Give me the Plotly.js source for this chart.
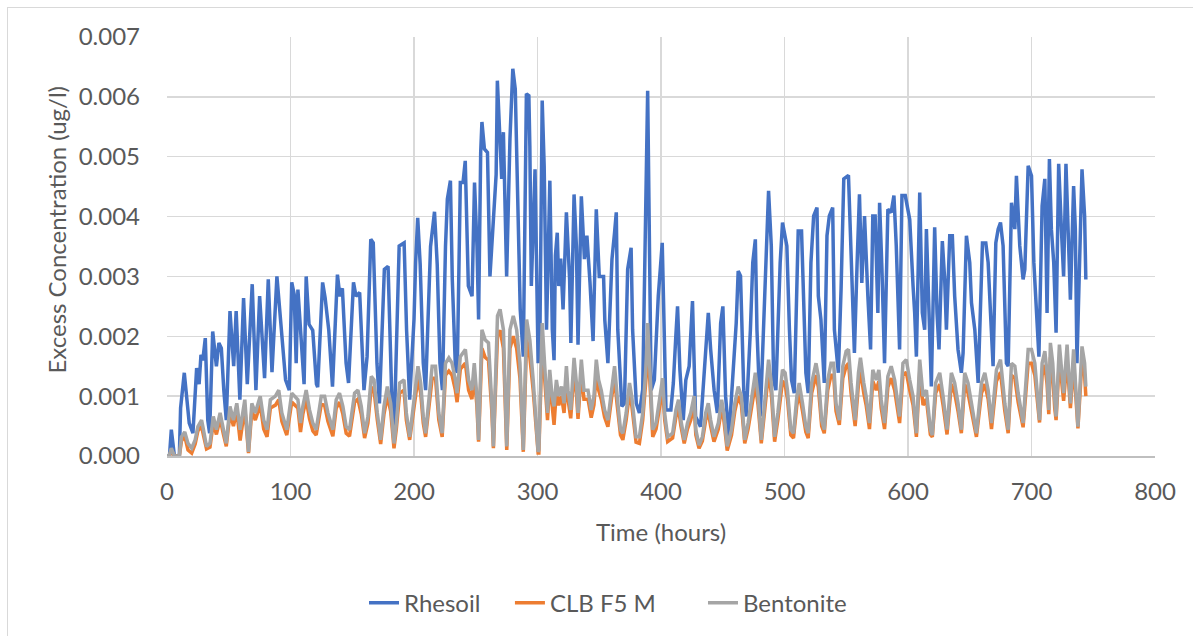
<!DOCTYPE html>
<html>
<head>
<meta charset="utf-8">
<script src="https://cdn.plot.ly/plotly-3.0.1.min.js"></script>
<style>
  html, body { margin: 0; padding: 0; background: #fff; overflow: hidden; }
  #frame { position: absolute; left: 7px; top: 7px; width: 1200px; height: 640px; border-left: 1px solid #d9d9d9; border-top: 1px solid #d9d9d9; }
  #chart { position: absolute; left: 0; top: 0; width: 1193px; height: 636px; }
</style>
</head>
<body>
<div id="frame"></div>
<div id="chart"></div>
<script>
// Values are in units of 0.001 ug/l (tick labels show the real values)
const seriesNames = ["Rhesoil", "CLB F5 M", "Bentonite"];
const seriesColors = ["#4472C4", "#ED7D31", "#A5A5A5"];

const tRhesoil = [
  0,2,3.5,5,6,10,11,14,16,18,21,24,26,27.5,29,31,33,34.5,37,39,40,42,44,46,48,51,54,56,59,62,65,69,72,75,79,82,85,89,92,96,99,
  101,103,104.6,106,107.5,111,112.7,115,118,121,122,126,128,131,134,138,140,142,145,147,151,153,156,159.5,162,165,167,170,172,176,179,182,184,188,192,194,196.5,
  200,201.3,203,205,207.5,209.4,213.4,216.6,218.8,221,223,225.5,227,229.5,231,233.5,235,237.5,239.7,241.5,244,247,249,251,252.3,254,255,257,259.5,261.5,266.5,267.5,269,271,272.4,275,277.7,280,282,283,284.5,286,288.5,291,293,293.8,295,298,300.5,
  302,303.8,305.4,307.3,308.6,310,312,313.4,314.5,316,317.2,318.8,320.7,323.4,326,327,329.6,331.5,332.8,335.5,338,340,342.5,345,347.6,350,353.5,354.5,357,360.3,362.4,363.8,365,368.3,370.4,373,375.8,377,380,382.5,385.2,386.6,389.2,390.5,392,394.6,397.8,401,
  402.7,404,408,410,412,413.4,415.3,418,420.1,422.8,425.5,426.8,428,432,436.2,438.3,440.2,443,445.6,448.3,450.1,452.3,455,458.2,460.9,462.5,464.4,467,469,472.4,474.3,476.4,477.7,480.4,483.9,485.8,487.1,489.3,491.2,493,496.5,498.4,
  501.9,504,505.7,507.9,510,511.1,513.8,515.5,517.3,519.2,521.4,523.6,526.3,527.4,529.5,532.2,534.4,536.3,539,540.4,543.6,545.8,548,551.8,554,556.6,558.8,560.7,562.6,564.8,567.5,569.7,571.5,573.4,575.6,577,578.9,581,583.7,586.4,588.6,590.5,593.2,595.1,597.8,
  601.4,604.1,605.4,606.8,609.5,611.6,613.5,614.9,617,618.9,621.6,623.5,625.1,627.8,629.7,631.1,633.8,635.9,637.8,640.5,643.2,644.6,647.3,650,651.4,654.1,656.8,658.6,660.3,663,664.9,666.8,668.9,671.1,673,674.9,677,679.7,681.1,683.8,686.5,687.8,690.5,693.2,694.6,697.3,700,701.9,
  706,708.6,710.8,712.6,714.5,716.1,718,719.9,722,724.2,726,727.9,730.1,731.5,734.1,735.5,736.8,738.2,740.9,743,744
];
const rhesoil = [
  0,0,0.44,0.1,0,0,0.8,1.39,0.9,0.55,0.38,1.47,1.2,1.69,1.6,1.97,0.6,0.38,2.08,1.7,1.5,1.89,1.8,1.1,0.6,2.42,1.5,2.42,0.94,2.64,1.2,2.87,1.1,2.67,1.3,2.95,1.4,3.0,2.2,1.27,1.1,
  2.9,2.7,1.55,2.78,2.3,1.2,3.0,2.2,2.1,1.2,1.15,2.9,2.65,2.1,1.16,3.03,2.67,2.8,1.55,1.22,2.9,2.67,2.73,1.1,1.66,3.62,3.56,1.55,0.88,3.12,3.17,1.0,0.49,3.51,3.56,2.1,0.94,
  2.28,3.23,3.98,3.2,1.55,1.1,3.5,4.08,3.2,1.55,1.1,3.5,4.29,4.6,2.95,1.5,1.39,4.57,4.57,4.93,2.84,2.67,4.57,3.5,2.28,5.07,5.58,5.13,5.07,3.0,4.7,6.27,5.47,4.63,5.41,3.0,5.3,6.47,6.13,5.18,3.68,2.45,1.66,6.05,6.02,5.18,2.84,4.79,1.55,
  2.1,5.94,4.85,2.11,3.68,4.6,2.11,1.6,3.35,3.73,2.84,3.3,2.45,4.07,2.95,1.89,4.37,3.5,1.86,4.34,3.29,3.68,2.9,1.92,4.12,3.0,3.0,2.27,1.55,3.29,3.73,4.07,2.11,0.83,0.88,3.12,3.48,2.11,0.88,0.72,1.11,2.67,6.1,3.79,1.1,1.27,2.67,3.56,
  2.11,0.77,0.77,1.22,2.0,2.5,1.44,0.6,1.27,1.5,2.59,1.55,0.66,0.49,1.72,2.39,1.78,1.1,0.72,2.22,2.5,1.0,0.32,1.27,2.22,3.09,3.01,1.1,0.66,2.11,3.23,3.62,2.11,0.66,2.67,3.68,4.43,3.51,1.27,1.1,3.23,3.9,
  3.51,2.11,1.27,1.05,3.23,3.76,3.76,2.67,1.39,1.05,3.23,4.01,4.15,2.67,2.28,1.22,3.68,4.01,4.15,2.11,1.39,2.78,4.63,4.69,3.23,1.72,3.23,4.37,2.89,4.01,2.67,1.78,4.01,4.01,2.39,4.23,3.12,1.55,4.12,4.07,4.35,3.51,1.78,4.35,4.35,
  3.95,2.84,2.39,1.66,4.4,2.39,2.11,3.79,2.11,1.16,3.82,2.39,1.78,3.59,2.95,2.11,3.68,3.68,2.67,1.78,1.39,1.72,3.68,3.23,2.56,2.11,1.22,2.67,3.56,3.56,3.23,2.39,1.5,3.56,3.79,3.9,3.51,1.55,1.5,4.23,3.79,4.68,3.51,2.95,3.12,4.85,4.68,3.23,
  1.66,4.18,4.63,2.39,4.96,3.79,3.23,2.06,4.88,3.79,3.0,4.88,3.23,2.61,4.51,3.79,1.55,2.67,4.79,4.01,2.95
];

const tMix = [
  0,2,3.5,6,10,11.7,14.4,17,20,22.8,25,28,29.5,32,34.8,37.5,40,43,45.7,48,51,53.8,56.5,59.2,63,66,68.7,71.5,75.5,78.3,81,83.7,87.8,90.5,93,97,
  101,103.2,106,108.1,110,112.7,115.4,118.1,120.8,124.9,127.6,130.3,134.3,137,139.7,142.4,145.1,147.8,151.9,154.6,157.3,160,162.7,165.4,167.6,170.3,173,175.7,178.4,181.1,183.8,185.7,188.4,191.9,193.8,196.5,
  201.3,203.2,205.4,207.5,209.4,212.1,214.7,217.4,220.1,222.8,225.5,228.2,230.8,233.5,234.9,237.5,241.6,244.2,246.9,248.8,250.9,252.3,255,257.6,260.3,263,264.3,267.6,269.7,272.4,275.1,277.7,280.4,283.1,285.8,288.5,291.2,293.8,296.5,300.5,
  301.1,303.8,305.9,308.1,309.9,311.8,313.4,315.3,317.2,319.4,321.5,323.4,324.7,326.9,329.6,331.5,332.8,335.5,337.6,340.9,343.5,345.7,347.6,349.5,351.6,354.3,357,360.2,362.4,364.5,367.2,369.1,371.8,374.5,376.3,379.8,382.5,385.2,387.9,389.2,391.4,393.3,396,399.5,
  401.3,403,405.4,409.4,412.1,414.2,416.1,418.8,421.4,424.1,426.8,428.2,430.8,433.5,436.2,438.3,440.2,442.9,446.4,449.1,450.9,453.6,457.1,459.8,462.5,465.1,467.8,470.5,473.7,476.4,478.6,481.2,483.9,487.1,489.3,492,494.6,498.4,
  500.5,502.4,505.1,507.3,510,511.9,514.6,517.3,519.2,522,525.5,527.4,530.1,532.2,535,537.7,539.8,541.7,544.4,547.2,549.9,551.8,553.9,557.2,559.9,561.5,564.2,566.1,568.8,571.5,574.3,576.4,578.3,581,583.7,586.4,589.2,593.2,595.9,598.6,
  601.4,604.1,606.8,609.5,612.2,614.9,618.1,619.7,622.4,625.7,628.4,631.6,635.1,637.8,640.5,643.2,645.9,648.6,651.4,655.4,659.5,662.2,664.9,667.6,671.6,674.9,678.4,681.1,683.8,686.5,689.2,693.2,697.3,700,
  702.7,706.5,708.6,710.8,712.6,714,715.3,717.2,718.8,719.9,722.6,724.7,726,728.8,730.1,731.5,734.1,735.5,737.6,740.9,743,744
];
const bentonite = [
  0,0.02,0.13,0,0,0.32,0.4,0.21,0.13,0.27,0.49,0.6,0.44,0.16,0.21,0.66,0.44,0.72,0.44,0.21,0.83,0.6,0.88,0.44,0.94,0.07,0.88,0.72,1.0,0.6,0.44,0.94,1.0,1.1,0.72,0.44,
  1.05,1.0,0.94,0.55,0.83,1.1,0.77,0.55,0.44,1.0,1.0,0.72,0.44,0.94,1.05,0.83,0.49,0.44,1.05,1.1,0.83,0.38,0.66,1.33,1.27,0.72,0.27,0.83,1.16,0.88,0.21,0.55,1.22,1.27,0.72,0.32,
  1.22,1.5,1.22,0.66,0.38,1.0,1.5,1.5,0.72,0.38,1.55,1.64,1.55,1.27,1.05,1.66,1.78,1.27,1.1,1.55,1.0,0.27,2.11,1.94,1.89,0.88,0.16,2.34,2.45,2.11,0.16,2.11,2.34,2.11,1.55,0.1,2.28,1.94,1.27,0.07,
  0.1,2.22,1.55,0.72,1.44,1.0,0.83,1.27,1.0,1.16,0.88,1.5,1.1,0.77,1.64,1.22,0.72,1.61,1.1,1.1,0.77,1.0,1.61,1.27,1.1,0.77,0.6,1.16,1.5,1.0,0.44,0.38,0.72,1.22,1.0,0.32,0.32,0.72,1.5,2.22,1.1,0.44,0.55,1.0,
  1.3,0.7,0.32,0.38,0.77,0.94,0.6,0.27,0.55,0.72,1.0,0.44,0.18,0.32,0.72,0.88,0.6,0.32,0.55,0.94,0.72,0.16,0.44,0.88,1.16,1.0,0.27,0.55,1.0,1.39,1.0,0.27,0.88,1.61,1.22,0.32,0.72,1.44,
  1.39,1.1,0.44,0.38,1.0,1.22,0.88,0.49,0.38,1.22,1.55,1.33,0.6,0.44,1.27,1.55,1.55,0.88,0.6,1.5,1.75,1.78,1.22,0.6,1.39,1.64,1.22,1.0,0.55,1.44,1.27,1.44,0.94,0.55,1.33,1.5,1.27,0.66,1.55,1.61,
  1.27,1.0,0.38,1.61,1.0,1.1,0.44,0.35,1.22,1.39,1.0,0.44,1.39,1.22,0.88,0.44,1.39,1.22,0.88,0.38,1.22,1.39,1.1,0.55,1.44,1.61,0.88,0.44,1.55,1.5,1.05,0.55,1.78,1.78,
  1.55,0.6,1.55,1.75,1.39,0.77,1.89,1.55,0.94,0.66,1.86,1.27,1.05,1.86,1.27,0.88,1.78,1.27,0.49,1.83,1.55,1.16
];
const clbF5M = [
  0,0,0.1,0,0,0.25,0.33,0.1,0.05,0.2,0.42,0.5,0.35,0.12,0.15,0.56,0.36,0.62,0.36,0.16,0.72,0.5,0.76,0.26,0.8,0.05,0.76,0.6,0.86,0.45,0.32,0.8,0.85,0.94,0.58,0.35,
  0.9,0.85,0.8,0.4,0.7,0.95,0.62,0.42,0.35,0.86,0.85,0.58,0.33,0.8,0.9,0.7,0.38,0.33,0.9,0.95,0.7,0.3,0.55,1.15,1.1,0.6,0.2,0.7,1.0,0.75,0.13,0.45,1.05,1.1,0.6,0.27,
  1.05,1.3,1.05,0.55,0.32,0.85,1.3,1.3,0.6,0.32,1.35,1.42,1.35,1.1,0.9,1.45,1.55,1.1,0.95,1.35,0.85,0.24,1.8,1.65,1.6,0.75,0.13,2.0,2.1,1.8,0.1,1.8,2.0,1.8,1.3,0.07,1.95,1.65,1.1,0.05,
  0.05,1.9,1.3,0.6,1.25,0.85,0.52,1.1,0.85,1.0,0.72,1.3,0.95,0.63,1.42,1.05,0.62,1.4,0.95,0.95,0.64,0.85,1.4,1.1,0.95,0.65,0.49,1.0,1.3,0.85,0.35,0.27,0.6,1.05,0.85,0.23,0.21,0.6,1.3,1.95,0.95,0.32,0.45,0.85,
  1.12,0.6,0.24,0.3,0.65,0.8,0.5,0.21,0.45,0.6,0.86,0.35,0.13,0.25,0.6,0.75,0.5,0.24,0.45,0.8,0.6,0.09,0.35,0.75,1.0,0.85,0.21,0.45,0.85,1.2,0.85,0.21,0.75,1.4,1.05,0.24,0.6,1.25,
  1.2,0.95,0.35,0.3,0.85,1.05,0.75,0.4,0.3,1.05,1.35,1.15,0.5,0.38,1.1,1.35,1.35,0.75,0.52,1.3,1.5,1.55,1.05,0.5,1.2,1.42,1.05,0.85,0.45,1.25,1.1,1.25,0.8,0.45,1.15,1.3,1.1,0.55,1.35,1.4,
  1.1,0.85,0.32,1.4,0.85,0.95,0.36,0.32,1.05,1.2,0.85,0.36,1.2,1.05,0.75,0.38,1.2,1.05,0.75,0.32,1.05,1.2,0.95,0.45,1.25,1.4,0.75,0.38,1.35,1.3,0.9,0.48,1.55,1.55,
  1.35,0.56,1.35,1.52,1.2,0.7,1.65,1.35,0.8,0.6,1.62,1.1,0.92,1.62,1.1,0.8,1.55,1.1,0.46,1.6,1.35,1.0
];

const xTickVals = [0, 100, 200, 300, 400, 500, 600, 700, 800];
const yTickVals = [0, 1, 2, 3, 4, 5, 6, 7];
const yTickText = ["0.000", "0.001", "0.002", "0.003", "0.004", "0.005", "0.006", "0.007"];
const xTitle = "Time (hours)";
const yTitle = "Excess Concentration (ug/l)";

const FONT = "Lato, 'Open Sans', 'Noto Sans', sans-serif";
const TXT = "#595959";

const traces = [
  { x: tRhesoil, y: rhesoil, name: seriesNames[0], type: "scatter", mode: "lines", legend: "legend",
    line: { color: seriesColors[0], width: 3.5 } },
  { x: tMix, y: clbF5M, name: seriesNames[1], type: "scatter", mode: "lines", legend: "legend2",
    line: { color: seriesColors[1], width: 3.5 } },
  { x: tMix, y: bentonite, name: seriesNames[2], type: "scatter", mode: "lines", legend: "legend3",
    line: { color: seriesColors[2], width: 3.5 } }
];

function legendAt(xp) {
  return {
    orientation: "h", x: xp, xanchor: "left", y: -0.348, yanchor: "middle",
    font: { family: FONT, size: 24, color: TXT }, bgcolor: "rgba(0,0,0,0)"
  };
}

const layout = {
  width: 1193, height: 636,
  paper_bgcolor: "rgba(0,0,0,0)", plot_bgcolor: "#ffffff",
  margin: { l: 167, r: 38, t: 37, b: 179, pad: 0 },
  font: { family: FONT, color: TXT, size: 24 },
  showlegend: true,
  legend: legendAt(0.1994),
  legend2: legendAt(0.3471),
  legend3: legendAt(0.5425),
  xaxis: {
    range: [0, 800], tickmode: "array", tickvals: xTickVals,
    showgrid: true, gridcolor: "#d9d9d9", gridwidth: 1.5,
    zeroline: false, showline: true, linecolor: "#bfbfbf", linewidth: 1.5,
    ticks: "", ticklabelstandoff: 14,
    tickfont: { family: FONT, size: 24, color: TXT },
    automargin: false, fixedrange: true
  },
  yaxis: {
    range: [0, 7], tickmode: "array", tickvals: yTickVals, ticktext: yTickText,
    showgrid: true, gridcolor: "#d9d9d9", gridwidth: 1.5,
    zeroline: false, showline: false,
    ticks: "", ticklabelstandoff: 26,
    tickfont: { family: FONT, size: 24, color: TXT },
    automargin: false, fixedrange: true
  },
  annotations: [
    { text: xTitle, xref: "paper", yref: "paper", x: 0.5, y: (457 - 533) / 420,
      xanchor: "center", yanchor: "middle", showarrow: false,
      font: { family: FONT, size: 24, color: TXT } },
    { text: yTitle, xref: "paper", yref: "paper", x: (57 - 167) / 988, y: (457 - 230) / 420,
      xanchor: "center", yanchor: "middle", textangle: -90, showarrow: false,
      font: { family: FONT, size: 24, color: TXT } }
  ]
};

Plotly.newPlot("chart", traces, layout, { staticPlot: true, displayModeBar: false });
</script>
</body>
</html>
